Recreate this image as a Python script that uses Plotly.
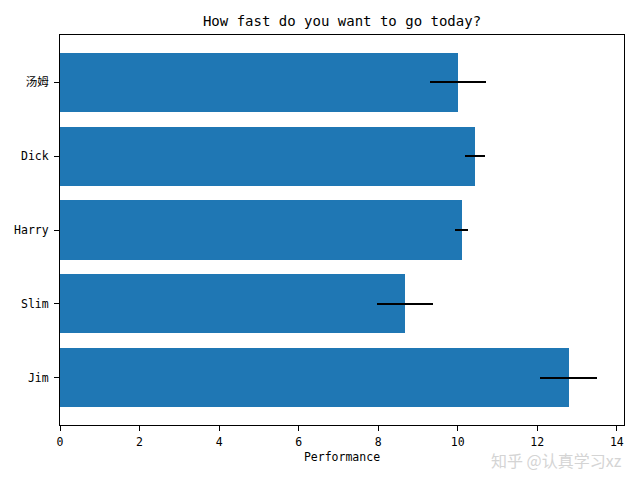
import plotly.graph_objects as go

people = ["汤姆", "Dick", "Harry", "Slim", "Jim"]
performance = [10.00, 10.44, 10.10, 8.68, 12.79]
error = [0.70, 0.25, 0.16, 0.70, 0.71]
x_ticks = [0, 2, 4, 6, 8, 10, 12, 14]

ypos = [len(people) - 1 - i for i in range(len(people))]

FONT = "DejaVu Sans Mono, Noto Sans CJK SC, monospace"

fig = go.Figure()
fig.add_trace(go.Bar(
    x=performance, y=ypos, orientation="h", width=0.8,
    marker=dict(color="#1f77b4", line=dict(width=0)),
    error_x=dict(type="data", array=error, visible=True, color="black",
                 thickness=1.6, width=0),
    showlegend=False,
))

fig.update_layout(
    width=640, height=480,
    margin=dict(l=60, r=16, t=35, b=55),
    paper_bgcolor="white", plot_bgcolor="white",
    font=dict(family=FONT, size=11.5, color="black"),
    title=dict(text="How fast do you want to go today?", x=(60 + 624) / 2 / 640,
               xanchor="center", y=1 - 21 / 480, yanchor="middle",
               yref="container", font=dict(family=FONT, size=14, color="black")),
    bargap=0,
)
fig.update_xaxes(
    range=[0, 14.18], tickvals=x_ticks, ticktext=[str(t) for t in x_ticks],
    showgrid=False, zeroline=False, showline=True, mirror=True,
    linecolor="black", linewidth=1, ticks="outside", ticklen=5,
    tickcolor="black", tickwidth=1, ticklabelstandoff=1,
    title=dict(text="Performance", standoff=5, font=dict(family=FONT, size=11.5)),
)
fig.update_yaxes(
    range=[-0.64, 4.64], tickvals=ypos, ticktext=people,
    showgrid=False, zeroline=False, showline=True, mirror=True,
    linecolor="black", linewidth=1, ticks="outside", ticklen=5,
    tickcolor="black", tickwidth=1, ticklabelstandoff=3,
)

fig.add_annotation(
    text="知乎 @认真学习xz", xref="paper", yref="paper",
    x=1.0, y=(425 - 460) / 390, xanchor="right", yanchor="middle", showarrow=False,
    font=dict(family="Noto Sans CJK SC", size=16, color="#d4d4d4"),
)

fig.write_html("out.html")
